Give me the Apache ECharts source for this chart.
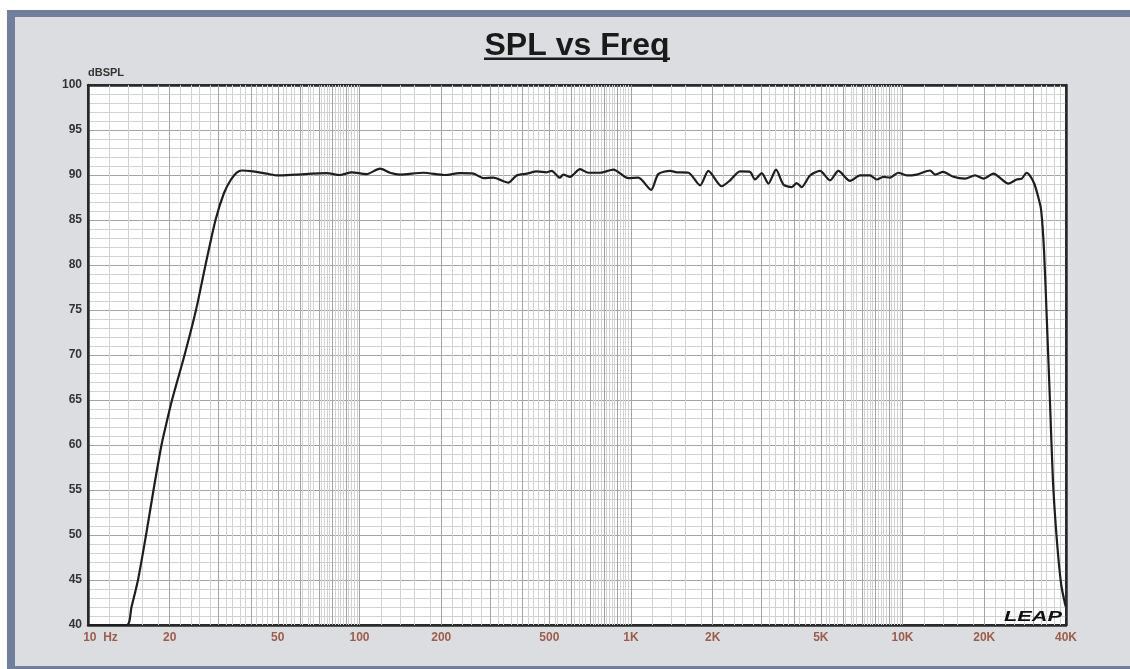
<!DOCTYPE html>
<html><head><meta charset="utf-8">
<script src="https://cdn.jsdelivr.net/npm/echarts@6/dist/echarts.min.js"></script>
<style>html,body{margin:0;padding:0;background:#fff}#c{width:1130px;height:669px}</style>
</head><body><div id="c"></div>
<script>
// ---- data ----
const freqHz = [10, 13.9, 14.46, 15.28, 16.36, 17.43, 18.65, 19.30, 20.39, 22.68, 24.99, 27.09, 29.49, 31.69, 33.63, 35.39, 36.92, 40.6, 45.5, 50.2, 58.7, 75.7, 84.8, 93.6, 106, 119, 129.5, 141, 172, 206, 234, 263, 286, 311, 353, 379, 413, 450, 489, 510, 547, 563, 596, 649, 696, 769, 861, 977, 1064, 1185, 1260, 1393, 1473, 1627, 1796, 1927, 2158, 2316, 2519, 2742, 2862, 3030, 3205, 3421, 3640, 3907, 4075, 4253, 4563, 4966, 5404, 5802, 6407, 6970, 7588, 8031, 8497, 8990, 9650, 10360, 11280, 12620, 13180, 14130, 15390, 17000, 18500, 19860, 21610, 24550, 26330, 27480, 28660, 29500, 30600, 31640, 32400, 33200, 34000, 34900, 35800, 37000, 38400, 39700, 40000];
const splDb = [40, 40, 42, 45, 50, 55, 60, 62, 65, 70, 75, 80, 85, 88, 89.5, 90.3, 90.5, 90.4, 90.15, 89.95, 90.05, 90.2, 90.0, 90.3, 90.1, 90.7, 90.25, 90.05, 90.25, 90.0, 90.2, 90.15, 89.65, 89.7, 89.15, 89.95, 90.15, 90.4, 90.3, 90.45, 89.7, 90.05, 89.8, 90.65, 90.25, 90.25, 90.6, 89.65, 89.7, 88.35, 90.1, 90.45, 90.3, 90.25, 88.85, 90.45, 88.75, 89.4, 90.4, 90.35, 89.5, 90.2, 89.05, 90.6, 88.95, 88.65, 89.1, 88.65, 89.95, 90.45, 89.4, 90.45, 89.35, 89.95, 89.95, 89.5, 89.8, 89.7, 90.25, 89.95, 90.05, 90.5, 90.05, 90.35, 89.8, 89.6, 89.95, 89.6, 90.15, 89.05, 89.5, 89.6, 90.25, 89.9, 89.0, 87.5, 86.1, 81.6, 73.9, 65.0, 56.1, 49.5, 44.5, 42.3, 42.0];
const xTickHz = [10, 20, 50, 100, 200, 500, 1000, 2000, 5000, 10000, 20000, 40000];
const xTickLabels = ['10  Hz', '20', '50', '100', '200', '500', '1K', '2K', '5K', '10K', '20K', '40K'];
const gridDecadesHz = [10, 100, 1000, 10000];
const fMin = 10, fMax = 40000;
const yMin = 40, yMax = 100, yStep = 5;
const titleText = 'SPL vs Freq';
const yName = 'dBSPL';

// ---- derived ----
const lg = v => Math.log10(v);
const minorGridHz = [], majorGridHz = [];
gridDecadesHz.forEach(d => {
  for (let k = 5; k < 50; k++) {
    const f = d * k / 5;
    if (f <= fMin || f >= fMax) continue;
    (k % 5 === 0 ? majorGridHz : minorGridHz).push(f);
  }
});
const curve = freqHz.map((f, i) => [lg(f), splDb[i]]);
const tickVals = xTickHz.map(lg);

function vline(list, color) {
  return {
    type: 'line', data: [[lg(fMin), yMin]], showSymbol: false, silent: true,
    lineStyle: { opacity: 0 }, z: 1, animation: false,
    markLine: {
      silent: true, symbol: ['none', 'none'], animation: false,
      label: { show: false }, emphasis: { disabled: true },
      lineStyle: { color: color, width: 1, type: 'solid' },
      data: list.map(f => ({ xAxis: lg(f) }))
    }
  };
}

const chart = echarts.init(document.getElementById('c'), null, { renderer: 'canvas' });
const font = '"Liberation Sans", Arial, sans-serif';
chart.setOption({
  animation: false,
  backgroundColor: '#dcdde0',
  grid: { left: 88, right: 64, top: 85, bottom: 44, show: true, backgroundColor: '#ffffff', borderColor: '#2a2a2a', borderWidth: 2 },
  xAxis: [{
    type: 'value', min: lg(fMin), max: lg(fMax), position: 'bottom',
    axisLine: { show: true, onZero: false, lineStyle: { color: '#2a2a2a', width: 2.5 } },
    axisTick: { show: false }, splitLine: { show: false },
    axisLabel: {
      customValues: tickVals, margin: 7,
      color: '#9c5d4c', fontWeight: 'bold', fontSize: 12, fontFamily: font,
      formatter: v => {
        let i = tickVals.findIndex(t => Math.abs(t - v) < 1e-6);
        if (i < 0) return '';
        return i === 0 ? '{hz|' + xTickLabels[0] + '}' : xTickLabels[i];
      },
      rich: { hz: { color: '#9c5d4c', fontWeight: 'bold', fontSize: 12, fontFamily: font, padding: [0, 0, 0, 25] } }
    }
  }, {
    type: 'value', min: lg(fMin), max: lg(fMax), position: 'top',
    axisLine: { show: true, onZero: false, lineStyle: { color: '#2a2a2a', width: 2.5 } },
    axisTick: { show: false }, splitLine: { show: false }, axisLabel: { show: false }
  }],
  yAxis: [{
    type: 'value', min: yMin, max: yMax, interval: yStep, position: 'left',
    name: yName, nameLocation: 'end', nameGap: 7,
    nameTextStyle: { align: 'left', color: '#333', fontWeight: 'bold', fontSize: 11, fontFamily: font },
    axisLine: { show: true, onZero: false, lineStyle: { color: '#2a2a2a', width: 2.5 } },
    axisTick: { show: false },
    axisLabel: { color: '#333', fontWeight: 'bold', fontSize: 12, fontFamily: font, margin: 6 },
    splitLine: { show: true, lineStyle: { color: '#a4a4a4', width: 1 } },
    minorTick: { show: false, splitNumber: 5 },
    minorSplitLine: { show: true, lineStyle: { color: '#d2d2d2', width: 1 } }
  }, {
    type: 'value', min: yMin, max: yMax, interval: yStep, position: 'right',
    axisLine: { show: true, onZero: false, lineStyle: { color: '#2a2a2a', width: 2.5 } },
    axisTick: { show: false }, axisLabel: { show: false }, splitLine: { show: false }
  }],
  graphic: [
    { type: 'rect', silent: true, z: 100, shape: { x: 0, y: 0, width: 1130, height: 10 }, style: { fill: '#ffffff' } },
    { type: 'rect', silent: true, z: 100, shape: { x: 0, y: 0, width: 7, height: 669 }, style: { fill: '#ffffff' } },
    { type: 'rect', silent: true, z: 100, shape: { x: 7, y: 10, width: 1123, height: 7 }, style: { fill: '#717f9c' } },
    { type: 'rect', silent: true, z: 100, shape: { x: 7, y: 10, width: 8, height: 659 }, style: { fill: '#717f9c' } },
    { type: 'rect', silent: true, z: 100, shape: { x: 7, y: 666, width: 1123, height: 3 }, style: { fill: '#717f9c' } },
    { type: 'text', silent: true, z: 100, x: 577, y: 46, style: { text: titleText, fill: '#1a1a1a', font: 'bold 32px ' + font, textAlign: 'center', textVerticalAlign: 'middle' } },
    { type: 'rect', silent: true, z: 100, shape: { x: 484, y: 57.5, width: 186, height: 2.5 }, style: { fill: '#1a1a1a' } },
    { type: 'text', silent: true, z: 100, x: 1004, y: 617, scaleX: 1.55, style: { text: 'LEAP', fill: '#111', font: 'italic 900 14px ' + font, textAlign: 'left', textVerticalAlign: 'middle' } }
  ],
  series: [
    vline(minorGridHz, '#d2d2d2'),
    Object.assign(vline(majorGridHz, '#a4a4a4'), { z: 2 }),
    {
      type: 'line', data: curve, showSymbol: false, smooth: 0.25, z: 5,
      lineStyle: { color: '#1e1e1e', width: 2.2 }, silent: true
    }
  ]
});
</script></body></html>
